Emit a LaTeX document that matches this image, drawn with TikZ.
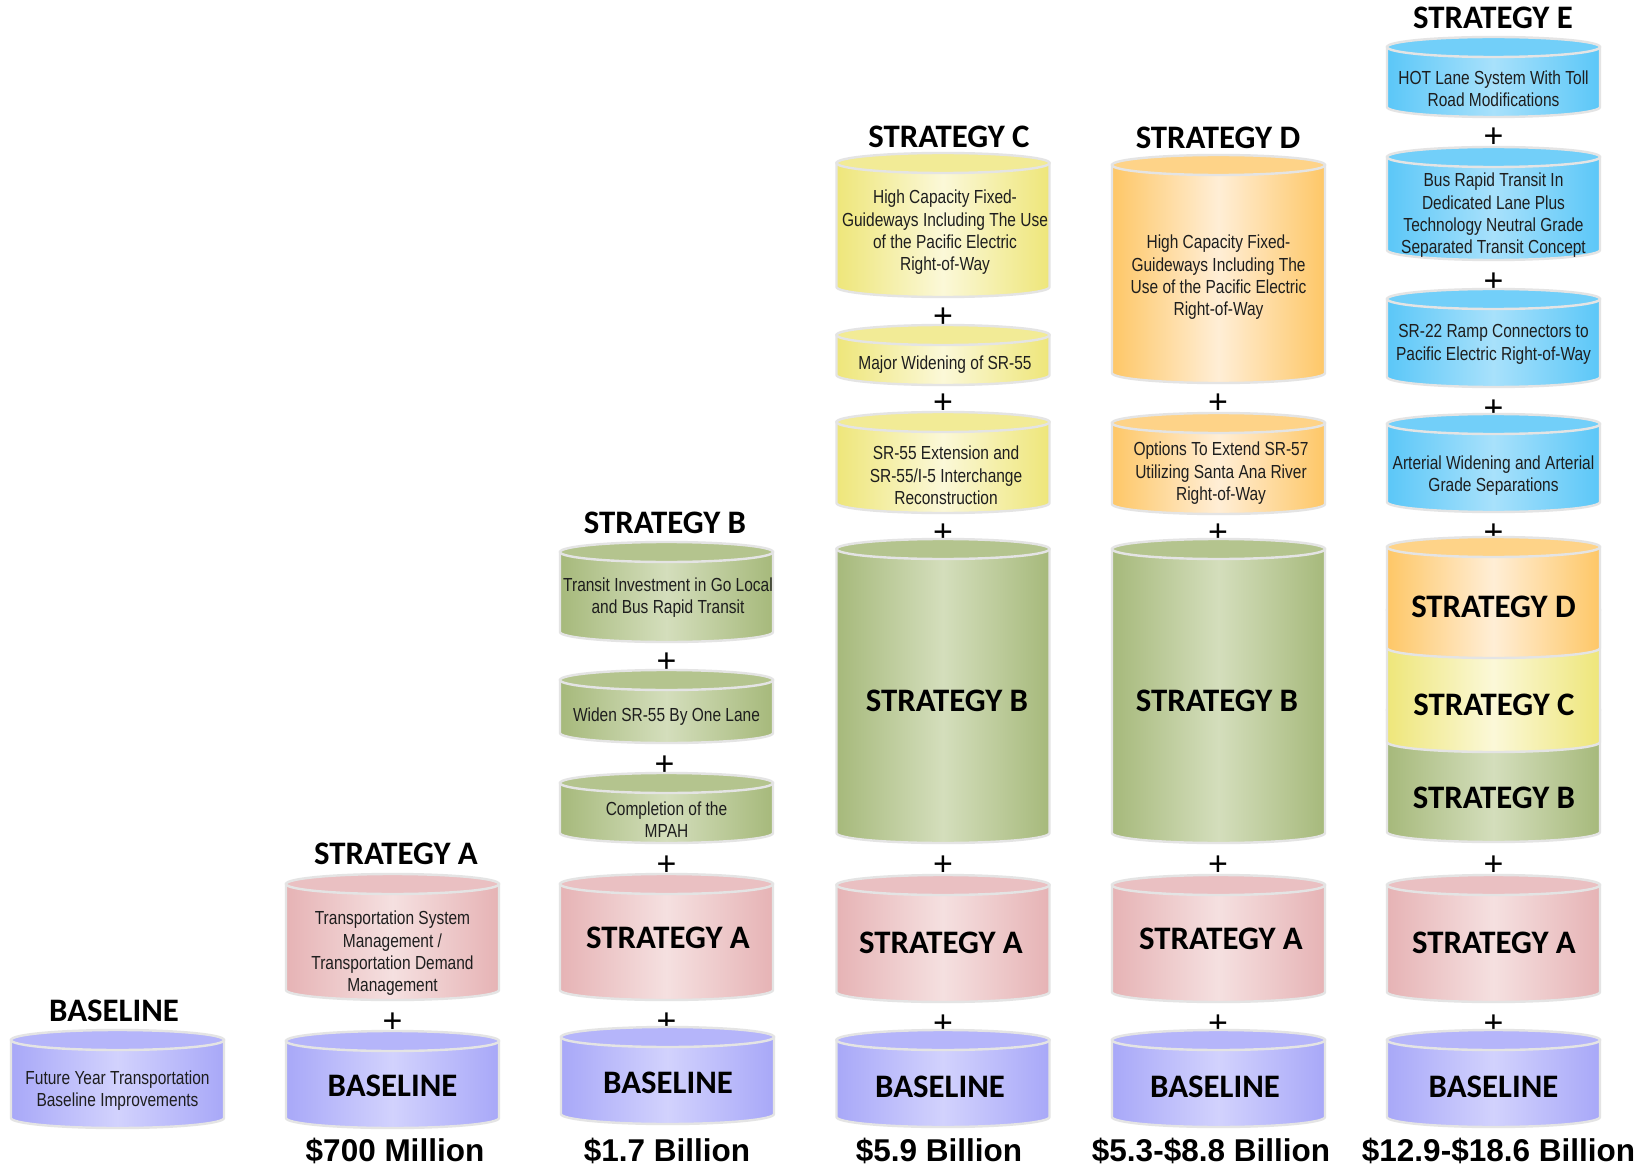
\documentclass[tikz,border=0pt]{standalone}
\usepackage{fontspec}
\newfontfamily\descfont[FakeStretch=0.82]{Liberation Sans}
\newfontfamily\headfont{Carlito}
\newfontfamily\moneyfont{Liberation Sans}
\definecolor{purE}{HTML}{A8A8F8}\definecolor{purM}{HTML}{D2D2FD}
\definecolor{pinkE}{HTML}{E6B3B5}\definecolor{pinkM}{HTML}{F5E0E0}
\definecolor{grnE}{HTML}{A6B97B}\definecolor{grnM}{HTML}{D4DEBC}
\definecolor{ylwE}{HTML}{EEE67A}\definecolor{ylwM}{HTML}{FBF8D8}
\definecolor{orgE}{HTML}{FEC767}\definecolor{orgM}{HTML}{FFEED6}
\definecolor{bluE}{HTML}{5BC7F8}\definecolor{bluM}{HTML}{A8E1FB}
\definecolor{cylline}{HTML}{E4E4E4}
\definecolor{desctext}{HTML}{1E1E1E}
% #1 cx, #2 top, #3 bottom, #4 edge colour, #5 middle colour
\newcommand\cyl[5]{%
  \path[draw=cylline, line width=2.4pt, left color=#4, right color=#4, middle color=#5]
    ({#1-106.5},{#2+10}) -- ({#1-106.5},{#3-10})
    arc[start angle=180, end angle=0, x radius=106.5, y radius=10]
    -- ({#1+106.5},{#2+10}) -- cycle;
  \path[draw=cylline, line width=2.4pt, fill=#4!70!#5] (#1,{#2+10}) ellipse[x radius=106.5, y radius=10];
}
\tikzset{
  desc/.style={font=\descfont\fontsize{18.9}{22.4}\selectfont, align=center, text=desctext, inner sep=0pt, yshift=-2.5pt},
  head/.style={font=\headfont\bfseries\fontsize{32.8}{36}\selectfont, inner sep=0pt},
  money/.style={font=\moneyfont\bfseries\fontsize{31.5}{36}\selectfont, inner sep=0pt},
  plus/.style={font=\moneyfont\fontsize{34}{36}\selectfont, inner sep=0pt, yshift=-1pt},
}
\begin{document}
\begin{tikzpicture}[x=1pt, y=-1pt]
\useasboundingbox (0,0) rectangle (1647,1166);
\fill[white] (0,0) rectangle (1647,1166);

% ---------- Column 0 : Baseline ----------
\node[head] (h0) at (114,1011) {BASELINE};
\cyl{117.5}{1030}{1128}{purE}{purM}
\node[desc] (b0) at (117.5,1088) {Future Year Transportation\\Baseline Improvements};

% ---------- Column 1 : Strategy A ----------
\node[head] (h1) at (396,854) {STRATEGY A};
\cyl{392.5}{874}{1000}{pinkE}{pinkM}
\node[desc] (a1) at (392.5,951) {Transportation System\\Management /\\Transportation Demand\\Management};
\node[plus] (p1a) at (392.5,1022) {+};
\cyl{392.5}{1031}{1128}{purE}{purM}
\node[head] (b1) at (392.5,1086) {BASELINE};
\node[money] (m1) at (395,1151) {\$700 Million};

% ---------- Column 2 : Strategy B ----------
\node[head] (h2) at (665,523) {STRATEGY B};
\cyl{666.5}{542}{642}{grnE}{grnM}
\node[desc] (b2a) at (668,595) {Transit Investment in Go Local\\and Bus Rapid Transit};
\node[plus] (p2a) at (666.5,662) {+};
\cyl{666.5}{670}{743}{grnE}{grnM}
\node[desc] (b2b) at (666.5,714) {Widen SR-55 By One Lane};
\node[plus] (p2b) at (664.5,765) {+};
\cyl{666.5}{773}{843}{grnE}{grnM}
\node[desc] (b2c) at (666.5,817) {Completion of the\\MPAH};
\node[plus] (p2c) at (666.5,865) {+};
\cyl{666.5}{874}{1000}{pinkE}{pinkM}
\node[head] (a2) at (668,938) {STRATEGY A};
\node[plus] (p2d) at (666.5,1022) {+};
\cyl{667.5}{1027}{1124}{purE}{purM}
\node[head] (base2) at (668,1083) {BASELINE};
\node[money] (m2) at (667,1151) {\$1.7 Billion};

% ---------- Column 3 : Strategy C ----------
\node[head] (h3) at (949,137) {STRATEGY C};
\cyl{943}{153}{297}{ylwE}{ylwM}
\node[desc] (c3a) at (945,230) {High Capacity Fixed-\\Guideways Including The Use\\of the Pacific Electric\\Right-of-Way};
\node[plus] (p3a) at (943,317) {+};
\cyl{943}{325}{385}{ylwE}{ylwM}
\node[desc] (c3b) at (945,362) {Major Widening of SR-55};
\node[plus] (p3b) at (943,403) {+};
\cyl{943}{412}{513}{ylwE}{ylwM}
\node[desc] (c3c) at (946,473) {SR-55 Extension and\\SR-55/I-5 Interchange\\Reconstruction};
\node[plus] (p3c) at (943,533) {+};
\cyl{943}{539}{843}{grnE}{grnM}
\node[head] (b3) at (947,701) {STRATEGY B};
\node[plus] (p3d) at (943,865) {+};
\cyl{943}{875}{1002}{pinkE}{pinkM}
\node[head] (a3) at (941,943) {STRATEGY A};
\node[plus] (p3e) at (943,1024) {+};
\cyl{943}{1030}{1127}{purE}{purM}
\node[head] (base3) at (940,1087) {BASELINE};
\node[money] (m3) at (939,1151) {\$5.9 Billion};

% ---------- Column 4 : Strategy D ----------
\node[head] (h4) at (1218,137.5) {STRATEGY D};
\cyl{1218.5}{155}{383}{orgE}{orgM}
\node[desc] (d4a) at (1218.5,275) {High Capacity Fixed-\\Guideways Including The\\Use of the Pacific Electric\\Right-of-Way};
\node[plus] (p4a) at (1218,403) {+};
\cyl{1218.5}{413}{514}{orgE}{orgM}
\node[desc] (d4b) at (1221,471) {Options To Extend SR-57\\Utilizing Santa Ana River\\Right-of-Way};
\node[plus] (p4b) at (1218,533) {+};
\cyl{1218.5}{539}{843}{grnE}{grnM}
\node[head] (b4) at (1217,701) {STRATEGY B};
\node[plus] (p4c) at (1218,865) {+};
\cyl{1218.5}{875}{1002}{pinkE}{pinkM}
\node[head] (a4) at (1221,939) {STRATEGY A};
\node[plus] (p4d) at (1218,1024) {+};
\cyl{1218.5}{1030}{1127}{purE}{purM}
\node[head] (base4) at (1215,1087) {BASELINE};
\node[money] (m4) at (1211,1151) {\$5.3-\$8.8 Billion};

% ---------- Column 5 : Strategy E ----------
\node[head] (h5) at (1493,18) {STRATEGY E};
\cyl{1493.5}{37}{117}{bluE}{bluM}
\node[desc] (e5a) at (1493.5,86) {HOT Lane System With Toll\\Road Modifications};
\node[plus] (p5a) at (1493.5,137) {+};
\cyl{1493.5}{147}{260}{bluE}{bluM}
\node[desc] (e5b) at (1493.5,213) {Bus Rapid Transit In\\Dedicated Lane Plus\\Technology Neutral Grade\\Separated Transit Concept};
\node[plus] (p5b) at (1493.5,282) {+};
\cyl{1493.5}{289}{387}{bluE}{bluM}
\node[desc] (e5c) at (1493.5,342) {SR-22 Ramp Connectors to\\Pacific Electric Right-of-Way};
\node[plus] (p5c) at (1493.5,409) {+};
\cyl{1493.5}{414}{512}{bluE}{bluM}
\node[desc] (e5d) at (1493.5,473) {Arterial Widening and Arterial\\Grade Separations};
\node[plus] (p5d) at (1493.5,533) {+};
\cyl{1493.5}{700}{842}{grnE}{grnM}
\cyl{1493.5}{600}{752}{ylwE}{ylwM}
\cyl{1493.5}{537}{658}{orgE}{orgM}
\node[head] (d5) at (1493.5,607) {STRATEGY D};
\node[head] (c5) at (1494,705) {STRATEGY C};
\node[head] (b5) at (1494,798) {STRATEGY B};
\node[plus] (p5e) at (1493.5,865) {+};
\cyl{1493.5}{875}{1002}{pinkE}{pinkM}
\node[head] (a5) at (1494,943) {STRATEGY A};
\node[plus] (p5f) at (1493.5,1024) {+};
\cyl{1493.5}{1030}{1127}{purE}{purM}
\node[head] (base5) at (1493.5,1087) {BASELINE};
\node[money] (m5) at (1498.5,1151) {\$12.9-\$18.6 Billion};
\end{tikzpicture}
\end{document}
